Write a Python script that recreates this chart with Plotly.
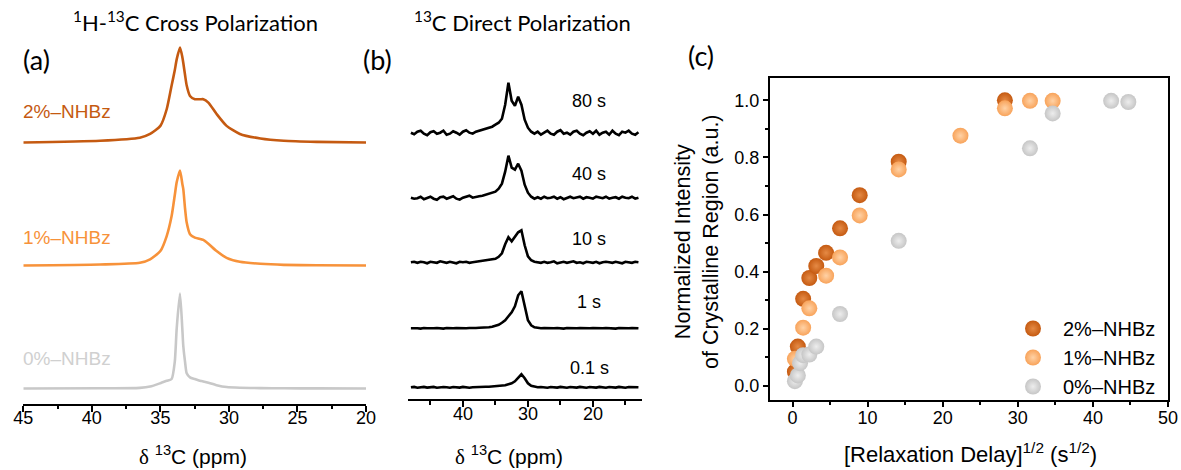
import plotly.graph_objects as go

W, H = 1181, 470

# ---------------- Panel (a): 1H-13C CP spectra (normalized intensity) ----------------
ppm_a = [45.0, 39.4, 36.5, 35.75, 35.0, 34.54, 34.18, 33.95, 33.81, 33.57, 33.4, 33.33, 33.2,
         33.08, 32.84, 32.48, 32.0, 31.87, 31.5, 30.9, 30.17, 29.2, 27.7, 26.0, 23.6, 20.0]
cp_2pct = [0.0, 0.018, 0.05, 0.09, 0.175, 0.35, 0.6, 0.76, 0.875, 1.0, 0.9, 0.84, 0.71,
           0.6, 0.49, 0.456, 0.456, 0.456, 0.42, 0.30, 0.175, 0.09, 0.042, 0.018, 0.007, 0.0]
cp_1pct = [0.0, 0.01, 0.028, 0.064, 0.152, 0.31, 0.52, 0.74, 0.876, 1.0, 0.86, 0.806, 0.6,
           0.452, 0.33, 0.293, 0.275, 0.27, 0.23, 0.152, 0.081, 0.039, 0.018, 0.007, 0.003, 0.0]
cp_0pct = [0.0, 0.002, 0.007, 0.02, 0.056, 0.081, 0.10, 0.28, 0.63, 1.0, 0.63, 0.45, 0.28,
           0.16, 0.117, 0.1, 0.078, 0.074, 0.06, 0.035, 0.015, 0.008, 0.004, 0.002, 0.001, 0.0]
cp_labels = ["2%–NHBz", "1%–NHBz", "0%–NHBz"]
cp_colors = ["#C55A11", "#F7923A", "#C8C8C8"]
cp_label_colors = ["#C55A11", "#F7923A", "#D0D0D0"]

# ---------------- Panel (b): 13C DP spectra (intensity, arbitrary units) ----------------
ppm_b = [48.0, 47.5, 47.0, 46.5, 46.0, 45.5, 45.0, 44.5, 44.0, 43.5, 43.0, 42.5, 42.0,
         41.5, 41.0, 40.5, 40.0, 39.5, 39.0, 38.5, 38.0, 37.5, 37.0, 36.5, 36.0,
         35.5, 35.0, 34.5, 34.0, 33.5, 33.0, 32.5, 32.0, 31.5, 31.0, 30.5, 30.0,
         29.5, 29.0, 28.5, 28.0,
         27.5, 27.0, 26.5, 26.0, 25.5, 25.0, 24.5, 24.0, 23.5, 23.0, 22.5, 22.0,
         21.5, 21.0, 20.5, 20.0, 19.5, 19.0, 18.5, 18.0, 17.5, 17.0, 16.5, 16.0,
         15.5, 15.0, 14.5, 14.0, 13.5, 13.0]
dp_80s = [0, -1.5, 1, 2, -1, -2.5, 0.5, 1.5, -1, 0, 2, -2, -1,
          1.5, 0, -2, 1, 2.5, 0, -1, 1, 2, 3, 4, 5,
          6, 8, 10, 14, 28, 50, 32, 27, 36, 28, 13, 5,
          1, -1, 1, -2,
          0, 2, -1, -2, 1, 2.5, -1, 0, -2, 1, 2, -1,
          -2.5, 0, 1.5, -1, 2, -2, 0, 1, -2, 2, -1, -2.5,
          1, 0, 2, -1, -2, 0.5]
dp_40s = [0, -1, -0.5, 1, -1.5, 0, 1, -1, -2, 0.5, 1, -1, 0,
          1.5, -1, -2, 0, 1, 2, 0, 1, 1.5, 2, 3, 3.5,
          4.5, 6, 9, 14, 26, 42, 30, 28, 34, 27, 13, 5,
          1, -1, 0.5, -1,
          1, -0.5, 0, 1, -1, 0.5, -1.5, 0, 1, -0.5, 0, 1,
          -1, 0.5, 0, -1, 1, 0, -0.5, 1, -1, 0, 0.5, -1,
          1, 0, -0.5, 1, -1, 0]
dp_10s = [0, 0.5, -0.5, 0.5, 0, -1, 0.5, 0, -0.5, 1, 0, -0.5, 0.5,
          0, -1, 0.5, 0, 0.5, -0.5, 0, 0.5, 1, 1, 1.5, 2,
          2.5, 3.5, 5.5, 9, 18, 25, 21, 26, 30, 32, 17, 6,
          2, 0.5, 0, -0.5,
          0.5, -0.5, 0, 1, -1, 0, 0.5, -0.5, 0, 1, -0.5, 0,
          -1, 0.5, 0, -0.5, 0.5, -1, 0, 0.5, 0, -0.5, 0.5, 0,
          -1, 0.5, 0, -0.5, 0.5, 0]
dp_1s = [0, 0.3, 0, -0.3, 0.3, 0, -0.3, 0, 0.3, 0, -0.3, 0.3, 0,
         0, 0.3, 0, -0.3, 0, 0.3, 0, 0.3, 0.5, 0.5, 0.8, 1,
         1.5, 2.5, 3.5, 5.5, 8, 12, 16, 22, 33, 37, 22, 8,
         3, 1, 0.5, 0,
         0.3, 0, -0.3, 0, 0.3, 0, -0.3, 0.3, 0, -0.3, 0, 0.3,
         0, -0.3, 0, 0.3, 0, -0.3, 0, 0.3, 0, 0, -0.3, 0.3,
         0, -0.3, 0, 0.3, 0, 0]
dp_01s = [0, 0.4, -0.4, 0, 0.4, -0.3, 0, 0.4, -0.4, 0, 0.3, 0, -0.4,
          0.3, 0, -0.3, 0.4, 0, -0.4, 0, 0.3, 0, 0.4, 0.5, 0.6,
          0.8, 1, 1.2, 1.5, 2, 3, 4, 6, 10, 13, 9, 4,
          1.5, 0.5, 0, 0.3,
          0, -0.4, 0.3, 0, -0.3, 0.4, 0, -0.4, 0.3, 0, -0.3, 0.4,
          0, -0.4, 0.3, 0, -0.3, 0.4, 0, -0.4, 0.3, 0, -0.3, 0.4,
          0, -0.4, 0.3, 0, -0.3, 0]
dp_labels = ["80 s", "40 s", "10 s", "1 s", "0.1 s"]

# ---------------- Panel (c): crystalline-region build-up ----------------
sqrt_delay_2pct = [0.316, 0.707, 1.414, 2.236, 3.162, 4.472, 6.325, 8.944, 14.14, 28.28]
intens_2pct = [0.05, 0.138, 0.305, 0.378, 0.42, 0.466, 0.552, 0.668, 0.785, 1.0]
sqrt_delay_1pct = [0.316, 1.414, 2.236, 4.472, 6.325, 8.944, 14.14, 22.36, 28.28, 31.62, 34.64]
intens_1pct = [0.095, 0.204, 0.272, 0.386, 0.45, 0.597, 0.758, 0.876, 0.972, 0.998, 0.998]
sqrt_delay_0pct = [0.316, 0.707, 1.0, 1.414, 2.236, 3.162, 6.325, 14.14, 31.62, 34.64, 42.43, 44.72]
intens_0pct = [0.017, 0.037, 0.08, 0.108, 0.11, 0.138, 0.252, 0.508, 0.832, 0.954, 0.998, 0.994]
series_names = ["2%–NHBz", "1%–NHBz", "0%–NHBz"]
marker_colors = ["#C55A11", "#F8A35A", "#C6C6C6"]
marker_hl = ["#E58A45", "#FFD2A6", "#EDEDED"]

ARIAL = "Liberation Sans, Arial, sans-serif"
CAL = "Lato, Open Sans, sans-serif"


def px_x(px):
    return px / W


def px_y(py):
    return 1 - py / H


fig = go.Figure()

# Panel (a) traces (offsets in px-like units of the axis)
a_offsets = [261, 138, 15]
a_scale = 95
for vals, off, col in zip([cp_2pct, cp_1pct, cp_0pct], a_offsets, cp_colors):
    fig.add_trace(go.Scatter(
        x=ppm_a, y=[off + a_scale * v for v in vals], mode="lines",
        line=dict(color=col, width=2.6, shape="spline", smoothing=0.6),
        xaxis="x", yaxis="y", showlegend=False, hoverinfo="skip"))

# Panel (b) traces
b_offsets = [266.6, 201.6, 137, 71, 12]
for vals, off in zip([dp_80s, dp_40s, dp_10s, dp_1s, dp_01s], b_offsets):
    fig.add_trace(go.Scatter(
        x=ppm_b, y=[off + v for v in vals], mode="lines",
        line=dict(color="black", width=2.6),
        xaxis="x2", yaxis="y2", showlegend=False, hoverinfo="skip"))

# Panel (c) traces
for xs, ys, name, col, hl in zip([sqrt_delay_2pct, sqrt_delay_1pct, sqrt_delay_0pct],
                                 [intens_2pct, intens_1pct, intens_0pct],
                                 series_names, marker_colors, marker_hl):
    fig.add_trace(go.Scatter(
        x=xs, y=ys, mode="markers", name=name,
        marker=dict(size=16, color=col, line=dict(width=0),
                    gradient=dict(type="radial", color=hl)),
        xaxis="x3", yaxis="y3"))

axis_common = dict(showgrid=False, zeroline=False, showline=True, linecolor="black",
                   linewidth=2, ticks="outside", tickcolor="black", tickwidth=2,
                   automargin=False,
                   tickfont=dict(family=ARIAL, size=18, color="black"))

fig.update_layout(
    width=W, height=H, margin=dict(l=0, r=0, t=0, b=0, pad=0, autoexpand=False),
    paper_bgcolor="white", plot_bgcolor="white",
    showlegend=True,
    legend=dict(x=px_x(1003), y=px_y(309), xanchor="left", yanchor="top",
                font=dict(family=ARIAL, size=20, color="black"),
                bgcolor="rgba(0,0,0,0)", itemsizing="trace", itemwidth=50,
                tracegroupgap=0),
    xaxis=dict(domain=[px_x(23.3), px_x(366)], range=[45, 20], anchor="y",
               tickvals=[45, 40, 35, 30, 25, 20], ticklen=6, ticklabelstandoff=-9,
               minor=dict(tickvals=[42.5, 37.5, 32.5, 27.5, 22.5], ticklen=3,
                          tickwidth=2, tickcolor="black", ticks="outside"),
               **axis_common),
    yaxis=dict(domain=[px_y(403.5), px_y(39.5)], range=[0, 364], visible=False,
               automargin=False),
    xaxis2=dict(domain=[px_x(408.3), px_x(641.7)], range=[48.4, 12.5], anchor="y2",
                tickvals=[40, 30, 20], ticklen=6, ticklabelstandoff=-9,
                minor=dict(tickvals=[45, 35, 25, 15], ticklen=4,
                           tickwidth=2, tickcolor="black", ticks="outside"),
                **axis_common),
    yaxis2=dict(domain=[px_y(399.3), px_y(74.3)], range=[0, 325], visible=False,
                automargin=False),
    xaxis3=dict(domain=[px_x(770), px_x(1168)], range=[-3, 50], anchor="y3",
                tickvals=[0, 10, 20, 30, 40, 50], ticklen=5, mirror=True,
                ticklabelstandoff=-5,
                minor=dict(tickvals=[5, 15, 25, 35, 45], ticklen=3,
                           tickwidth=2, tickcolor="black", ticks="outside"),
                **axis_common),
    yaxis3=dict(domain=[px_y(400), px_y(78)], range=[-0.049, 1.078], anchor="x3",
                tickvals=[0, 0.2, 0.4, 0.6, 0.8, 1.0], tickformat=".1f", ticklen=5,
                mirror=True,
                minor=dict(tickvals=[0.1, 0.3, 0.5, 0.7, 0.9], ticklen=3,
                           tickwidth=2, tickcolor="black", ticks="outside"),
                **axis_common),
)

ann = []


def add_text(text, px, py, size, family, color="black", xanchor="center", angle=0):
    ann.append(dict(text=text, x=px_x(px), y=px_y(py), xref="paper", yref="paper",
                    xanchor=xanchor, yanchor="middle", showarrow=False, textangle=angle,
                    font=dict(family=family, size=size, color=color)))


add_text("<sup>1</sup>H-<sup>13</sup>C Cross Polarization", 195, 22, 22, CAL)
add_text("<sup>13</sup>C Direct Polarization", 522, 22, 22, CAL)
add_text("(a)", 36, 60, 27, CAL)
add_text("(b)", 377, 60, 27, CAL)
add_text("(c)", 701, 56, 27, CAL)

for lab, py, col in zip(cp_labels, [111.7, 238, 358.3], cp_label_colors):
    add_text(lab, 21, py, 19, ARIAL, color=col, xanchor="left")

for lab, py in zip(dp_labels, [101, 174, 239, 302, 368]):
    add_text(lab, 589, py, 18, ARIAL)

delta = '<span style="font-family:Liberation Serif, serif">δ</span> <sup>13</sup>C (ppm)'
add_text(delta, 193, 455, 21, ARIAL)
add_text(delta, 509, 455, 21, ARIAL)
add_text("[Relaxation Delay]<sup>1/2</sup> (s<sup>1/2</sup>)", 970, 453, 22, ARIAL)
add_text("Normalized Intensity<br>of Crystalline Region (a.u.)", 697, 242, 21.5, ARIAL, angle=-90)

fig.update_layout(annotations=ann)
fig.write_html("out.html", config={"responsive": False, "displayModeBar": False},
               post_script="document.body.style.margin='0';document.body.style.overflow='hidden';")
